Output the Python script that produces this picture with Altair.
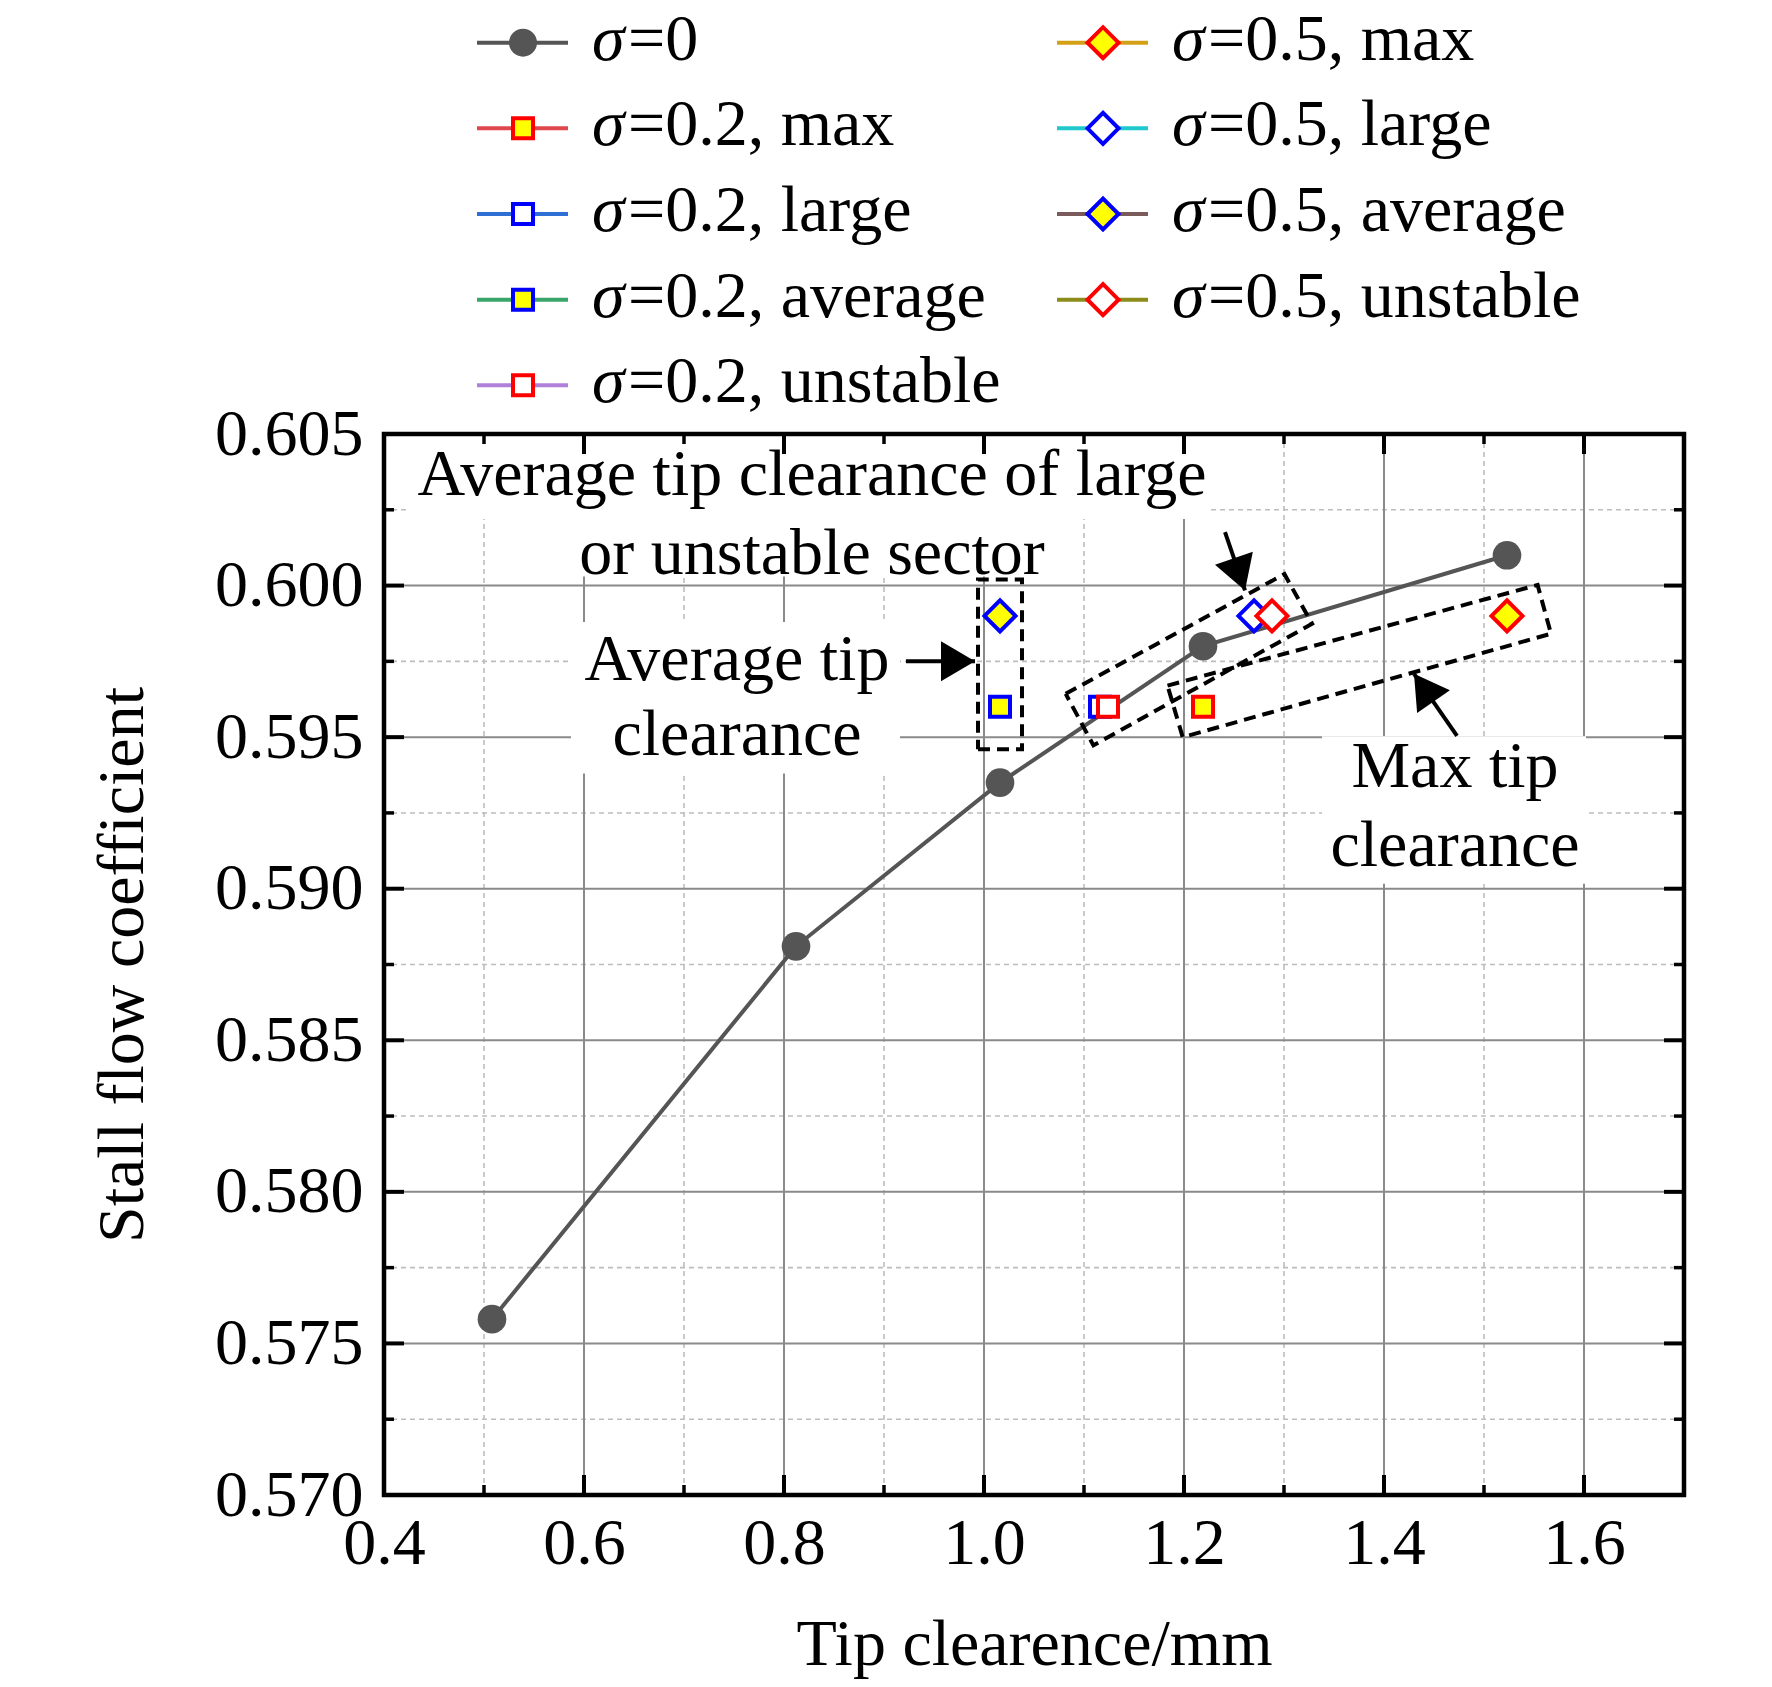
import altair as alt
import pandas as pd

# ---------------- data ----------------
s0_x = [0.508, 0.812, 1.016, 1.219, 1.523]
s0_y = [0.5758, 0.5881, 0.5935, 0.5980, 0.6010]

case_names = ["σ=0.2, max", "σ=0.2, large", "σ=0.2, average", "σ=0.2, unstable",
              "σ=0.5, max", "σ=0.5, large", "σ=0.5, average", "σ=0.5, unstable"]
case_x = [1.219, 1.116, 1.016, 1.124, 1.523, 1.270, 1.016, 1.288]
case_y = [0.596, 0.596, 0.596, 0.596, 0.599, 0.599, 0.599, 0.599]

x_ticks = [0.4, 0.6, 0.8, 1.0, 1.2, 1.4, 1.6]
x_minor = [0.5, 0.7, 0.9, 1.1, 1.3, 1.5]
y_ticks = [0.570, 0.575, 0.580, 0.585, 0.590, 0.595, 0.600, 0.605]
y_minor = [0.5725, 0.5775, 0.5825, 0.5875, 0.5925, 0.5975, 0.6025]

# annotation texts
ann_text = ["Average tip clearance of large", "or unstable sector",
            "Average tip", "clearance", "Max tip", "clearance"]
ann_x = [0.828, 0.828, 0.753, 0.753, 1.471, 1.471]
ann_y = [0.60299, 0.60038, 0.5969, 0.5944, 0.59335, 0.59076]

# white backgrounds behind annotation texts
bg_x1 = [0.425, 0.580, 0.587, 1.338]
bg_x2 = [1.225, 1.060, 0.916, 1.602]
bg_y1 = [0.6022, 0.6003, 0.5938, 0.59016]
bg_y2 = [0.6049, 0.6022, 0.5988, 0.59503]

# dashed annotation boxes (closed outlines)
box_id = [1, 1, 1, 1, 1, 2, 2, 2, 2, 2, 3, 3, 3, 3, 3]
box_x = [0.994, 1.038, 1.038, 0.994, 0.994,
         1.0817, 1.3004, 1.3281, 1.1094, 1.0817,
         1.1835, 1.5536, 1.5670, 1.1987, 1.1835]
box_y = [0.5946, 0.5946, 0.6002, 0.6002, 0.5946,
         0.59643, 0.60038, 0.59874, 0.59473, 0.59643,
         0.5967, 0.60002, 0.59841, 0.5950, 0.5967]

# arrows: start -> tip
arr_x0 = [0.922, 1.241, 1.473]
arr_y0 = [0.5975, 0.60176, 0.59504]
arr_x1 = [0.991, 1.261, 1.430]
arr_y1 = [0.5975, 0.59984, 0.59709]
arr_angle = [90, 161, 325]

# legend layout
legend_names = ["σ=0"] + case_names
legend_col = [0, 0, 0, 0, 0, 1, 1, 1, 1]
legend_row = [0, 1, 2, 3, 4, 0, 1, 2, 3]

# styles: line colour, shape, fill, stroke, size, stroke width
styles = {
    "σ=0":             ("#555555", "circle",  "#555555", "#555555", 780, 0),
    "σ=0.2, max":      ("#e0474c", "square",  "#ffff00", "#ff0000", 400, 4),
    "σ=0.2, large":    ("#2e6fd6", "square",  "#ffffff", "#0000ff", 400, 4),
    "σ=0.2, average":  ("#3aa56a", "square",  "#ffff00", "#0000ff", 400, 4),
    "σ=0.2, unstable": ("#b07fd8", "square",  "#ffffff", "#ff0000", 400, 4),
    "σ=0.5, max":      ("#d4a017", "diamond", "#ffff00", "#ff0000", 960, 4),
    "σ=0.5, large":    ("#1fc8cc", "diamond", "#ffffff", "#0000ff", 960, 4),
    "σ=0.5, average":  ("#7a5a5a", "diamond", "#ffff00", "#0000ff", 960, 4),
    "σ=0.5, unstable": ("#8c8c1a", "diamond", "#ffffff", "#ff0000", 960, 4),
}

# ---------------- chart ----------------
W, H = 1300, 1061
FONT = "Liberation Serif"
FS = 66
xs = alt.Scale(domain=[0.4, 1.7], nice=False, zero=False)
ys = alt.Scale(domain=[0.570, 0.605], nice=False, zero=False)

axis_common = dict(grid=False, ticks=False, domain=False, labelFont=FONT,
                   labelFontSize=FS, labelColor="black", titleFont=FONT,
                   titleFontSize=FS, titleFontWeight="normal", titleColor="black",
                   labelFlush=False, labelOverlap=False)
x_axis = alt.Axis(values=x_ticks, format=".1f", title="Tip clearence/mm",
                  labelPadding=16, titlePadding=36, **axis_common)
y_axis = alt.Axis(values=y_ticks, format=".3f", title="Stall flow coefficient",
                  labelPadding=21, titlePadding=58, **axis_common)


def X(f):
    return alt.X(f, type="quantitative", scale=xs, axis=x_axis)


def Y(f):
    return alt.Y(f, type="quantitative", scale=ys, axis=y_axis)


def style_df(names):
    return pd.DataFrame({
        "name": names,
        "line": [styles[n][0] for n in names],
        "shape": [styles[n][1] for n in names],
        "fill": [styles[n][2] for n in names],
        "stroke": [styles[n][3] for n in names],
        "size": [styles[n][4] for n in names],
        "sw": [styles[n][5] for n in names],
    })


xmaj_df = pd.DataFrame({"v": x_ticks})
xmin_df = pd.DataFrame({"v": x_minor})
ymaj_df = pd.DataFrame({"v": y_ticks})
ymin_df = pd.DataFrame({"v": y_minor})

# invisible layer that fixes both axes
frame_df = pd.DataFrame({"x": [0.4, 1.7], "y": [0.570, 0.605]})
axis_layer = alt.Chart(frame_df).mark_point(opacity=0).encode(x=X("x"), y=Y("y"))

minor_dash = dict(color="#bdbdbd", strokeWidth=1.6, strokeDash=[5, 4])
grid_x_minor = alt.Chart(xmin_df).mark_rule(**minor_dash).encode(x=X("v"))
grid_y_minor = alt.Chart(ymin_df).mark_rule(**minor_dash).encode(y=Y("v"))
grid_x_major = alt.Chart(pd.DataFrame({"v": x_ticks[1:]})).mark_rule(color="#8a8a8a", strokeWidth=2).encode(x=X("v"))
grid_y_major = alt.Chart(pd.DataFrame({"v": y_ticks[1:-1]})).mark_rule(color="#8a8a8a", strokeWidth=2).encode(y=Y("v"))

bg_df = pd.DataFrame({"x1": bg_x1, "x2": bg_x2, "y1": bg_y1, "y2": bg_y2})
backgrounds = alt.Chart(bg_df).mark_rect(color="white").encode(
    x=X("x1"), x2="x2", y=Y("y1"), y2="y2")

s0_df = pd.DataFrame({"x": s0_x, "y": s0_y})
s0_line = alt.Chart(s0_df).mark_line(color="#555555", strokeWidth=4).encode(x=X("x"), y=Y("y"))
s0_pts = alt.Chart(s0_df).mark_point(shape="circle", filled=True, color="#555555",
                                     size=820, opacity=1).encode(x=X("x"), y=Y("y"))

box_df = pd.DataFrame({"box": box_id, "x": box_x, "y": box_y, "i": list(range(len(box_x)))})
boxes = alt.Chart(box_df).mark_line(color="black", strokeWidth=4, strokeDash=[12, 7]).encode(
    x=X("x"), y=Y("y"), detail="box:N", order=alt.Order("i:Q"))

case_df = style_df(case_names)
case_df["x"] = case_x
case_df["y"] = case_y
case_pts = alt.Chart(case_df).mark_point(opacity=1, fillOpacity=1).encode(
    x=X("x"), y=Y("y"),
    shape=alt.Shape("shape:N", scale=None),
    fill=alt.Fill("fill:N", scale=None),
    stroke=alt.Stroke("stroke:N", scale=None),
    size=alt.Size("size:Q", scale=None),
    strokeWidth=alt.StrokeWidth("sw:Q", scale=None),
)

arr_df = pd.DataFrame({"x0": arr_x0, "y0": arr_y0, "x1": arr_x1, "y1": arr_y1, "a": arr_angle})
shafts = alt.Chart(arr_df).mark_rule(color="black", strokeWidth=4).encode(
    x=X("x0"), y=Y("y0"), x2="x1", y2="y1")
heads = alt.Chart(arr_df).mark_point(shape="M0,0L-1,1.7L1,1.7Z", filled=True, color="black",
                                     size=1600, opacity=1).encode(
    x=X("x1"), y=Y("y1"), angle=alt.Angle("a:Q", scale=None))

ann_df = pd.DataFrame({"t": ann_text, "x": ann_x, "y": ann_y})
ann = alt.Chart(ann_df).mark_text(font=FONT, fontSize=FS, color="black", align="center",
                                  baseline="alphabetic").encode(x=X("x"), y=Y("y"), text="t:N")

tick_major = dict(color="black", strokeWidth=4)
tick_minor = dict(color="black", strokeWidth=3.5)
ticks = [
    alt.Chart(xmaj_df).mark_rule(**tick_major).encode(x=X("v"), y=alt.value(H), y2=alt.value(H - 20)),
    alt.Chart(xmaj_df).mark_rule(**tick_major).encode(x=X("v"), y=alt.value(0), y2=alt.value(20)),
    alt.Chart(xmin_df).mark_rule(**tick_minor).encode(x=X("v"), y=alt.value(H), y2=alt.value(H - 10)),
    alt.Chart(xmin_df).mark_rule(**tick_minor).encode(x=X("v"), y=alt.value(0), y2=alt.value(10)),
    alt.Chart(ymaj_df).mark_rule(**tick_major).encode(y=Y("v"), x=alt.value(0), x2=alt.value(20)),
    alt.Chart(ymaj_df).mark_rule(**tick_major).encode(y=Y("v"), x=alt.value(W), x2=alt.value(W - 20)),
    alt.Chart(ymin_df).mark_rule(**tick_minor).encode(y=Y("v"), x=alt.value(0), x2=alt.value(10)),
    alt.Chart(ymin_df).mark_rule(**tick_minor).encode(y=Y("v"), x=alt.value(W), x2=alt.value(W - 10)),
]

main = alt.layer(axis_layer, grid_x_minor, grid_y_minor, grid_x_major, grid_y_major,
                 backgrounds, s0_line, boxes, case_pts, s0_pts, shafts, heads, ann, *ticks)

# ---------------- legend (above the plot) ----------------
leg_df = style_df(legend_names)
leg_df["col"] = legend_col
leg_df["row"] = legend_row
leg_df["sigma"] = "σ"
leg_df["rest"] = [n[1:] for n in legend_names]

LX = alt.X("col:Q", scale=alt.Scale(domain=[0, 1], range=[139, 719]), axis=None)
LY = alt.Y("row:Q", scale=alt.Scale(domain=[0, 4], range=[-391.3, -48.7]), axis=None)

leg_lines = alt.Chart(leg_df).mark_rule(strokeWidth=4, xOffset=-46, x2Offset=45).encode(
    x=LX, x2="col:Q", y=LY, color=alt.Color("line:N", scale=None))
leg_pts = alt.Chart(leg_df).mark_point(opacity=1, fillOpacity=1).encode(
    x=LX, y=LY,
    shape=alt.Shape("shape:N", scale=None),
    fill=alt.Fill("fill:N", scale=None),
    stroke=alt.Stroke("stroke:N", scale=None),
    size=alt.Size("size:Q", scale=None),
    strokeWidth=alt.StrokeWidth("sw:Q", scale=None),
)
leg_sigma = alt.Chart(leg_df).mark_text(font=FONT, fontSize=FS, fontStyle="italic", color="black",
                                        align="left", baseline="alphabetic", dx=69, dy=17).encode(
    x=LX, y=LY, text="sigma:N")
leg_rest = alt.Chart(leg_df).mark_text(font=FONT, fontSize=FS, color="black",
                                       align="left", baseline="alphabetic", dx=105, dy=17).encode(
    x=LX, y=LY, text="rest:N")
legend = alt.layer(leg_lines, leg_pts, leg_sigma, leg_rest)

chart = alt.layer(main, legend).resolve_scale(x="independent", y="independent").properties(
    width=W, height=H,
    autosize=alt.AutoSizeParams(type="none"),
    padding={"left": 376, "top": 426, "right": 70, "bottom": 192},
    background="white",
).configure_view(stroke="black", strokeWidth=4.5)

chart.save("out.html", embed_options={"renderer": "svg", "actions": False})
